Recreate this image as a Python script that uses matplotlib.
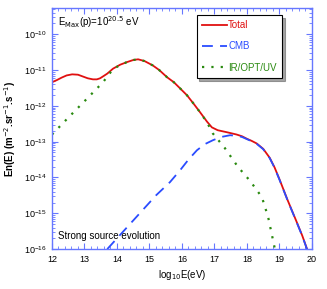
import numpy as np
import matplotlib
matplotlib.use("Agg")
import matplotlib.pyplot as plt
from matplotlib.ticker import LogLocator, MultipleLocator, FixedLocator

# log10 E (eV) and log10 flux
e_total = [12.0, 12.15, 12.3, 12.45, 12.62, 12.8, 12.95, 13.1, 13.26, 13.38, 13.48,
           13.6, 13.7, 13.88, 14.1, 14.3, 14.5, 14.65, 14.85, 15.1, 15.3, 15.54,
           15.75, 15.94, 16.15, 16.35, 16.55, 16.77, 16.92, 17.1, 17.4, 17.68,
           17.85, 18.0, 18.15, 18.3, 18.5, 18.7, 18.85, 19.0, 19.25, 19.52, 19.7,
           19.85]
f_total = [-11.34, -11.28, -11.21, -11.15, -11.12, -11.13, -11.18, -11.23, -11.26,
           -11.26, -11.23, -11.16, -11.1, -10.96, -10.85, -10.78, -10.72, -10.70,
           -10.75, -10.87, -11.0, -11.2, -11.34, -11.51, -11.7, -11.93, -12.17,
           -12.44, -12.6, -12.68, -12.74, -12.8, -12.85, -12.92, -12.98, -13.05,
           -13.2, -13.45, -13.72, -14.05, -14.63, -15.22, -15.62, -16.0]

e_cmb = [13.7, 14.1, 14.45, 14.8, 15.2, 15.63, 15.94, 16.2, 16.46, 16.7, 16.95,
         17.2, 17.48, 17.72, 17.85, 18.0, 18.15, 18.3, 18.5, 18.7, 18.85, 19.0,
         19.25, 19.52, 19.7, 19.85]
f_cmb = [-16.0, -15.6, -15.25, -14.9, -14.5, -14.13, -13.8, -13.5, -13.24, -13.07,
         -12.96, -12.87, -12.82, -12.84, -12.87, -12.93, -12.99, -13.06, -13.21,
         -13.46, -13.73, -14.06, -14.64, -15.23, -15.63, -16.01]

e_ir = [12.0, 12.5, 13.0, 13.57, 13.88, 14.1, 14.3, 14.5, 14.65, 14.85, 15.1, 15.3,
        15.54, 15.75, 15.94, 16.15, 16.35, 16.55, 16.77, 16.95, 17.32, 17.72,
        18.1, 18.46, 18.65, 18.86]
f_ir = [-12.8, -12.33, -11.87, -11.34, -10.97, -10.86, -10.78, -10.72, -10.70,
        -10.75, -10.87, -11.0, -11.2, -11.34, -11.51, -11.7, -11.93, -12.17,
        -12.46, -12.77, -13.18, -13.7, -14.1, -14.55, -15.1, -16.0]

red = '#e01010'
blue = '#2a4cff'
green = '#2a8a10'
axc = '#6677ff'

plt.rcParams['font.family'] = ['Liberation Sans', 'DejaVu Sans']

fig = plt.figure(figsize=(3.27, 2.89), dpi=100)
ax = fig.add_axes([0.159, 0.138, 0.795, 0.834])

ax.plot(e_total, 10 ** np.array(f_total), color=red, lw=1.3, label='Total')
ax.plot(e_cmb, 10 ** np.array(f_cmb), color=blue, lw=1.3, ls=(0, (6, 4)), label='CMB')
ax.plot(e_ir, 10 ** np.array(f_ir), color=green, lw=1.6, ls=(0, (1, 3.2)), label='IR/OPT/UV')

ax.set_yscale('log')
ax.set_xlim(12, 20)
ax.set_ylim(1e-16, 10 ** -9.27)
ax.xaxis.set_major_locator(MultipleLocator(1))
ax.xaxis.set_minor_locator(MultipleLocator(0.2))
ax.yaxis.set_major_locator(FixedLocator([10.0 ** k for k in range(-16, -9)]))
ax.yaxis.set_minor_locator(LogLocator(base=10, subs=np.arange(2, 10), numticks=20))

for s in ax.spines.values():
    s.set_color(axc)
    s.set_linewidth(1.0)
ax.tick_params(which='both', direction='in', top=True, right=True, color=axc,
               labelsize=6.5, pad=4)
ax.tick_params(which='major', length=4)
ax.tick_params(which='minor', length=2)

ax.set_xlabel('log$_{10}$E(eV)', fontsize=7, labelpad=3)
ax.set_ylabel('En(E) (m$^{-2}$.sr$^{-1}$.s$^{-1}$)', fontsize=7, fontweight='bold', labelpad=4)

ax.text(0.025, 0.94, r'E$_{\mathrm{Max}}$(p)=10$^{20.5}$ eV', transform=ax.transAxes,
        fontsize=7, va='center', ha='left')
ax.text(0.025, 0.055, 'Strong source evolution', transform=ax.transAxes,
        fontsize=7, va='center', ha='left')

leg = ax.legend(loc='upper right', bbox_to_anchor=(0.885, 0.972), borderaxespad=0,
                fontsize=7, handlelength=2.6, handletextpad=0.1, labelspacing=1.15,
                borderpad=0.55, fancybox=False, shadow=True, frameon=True)
leg.get_frame().set_edgecolor('black')
leg.get_frame().set_linewidth(0.8)
for t, c in zip(leg.get_texts(), [red, blue, green]):
    t.set_color(c)

fig.savefig('out.png', dpi=100)
